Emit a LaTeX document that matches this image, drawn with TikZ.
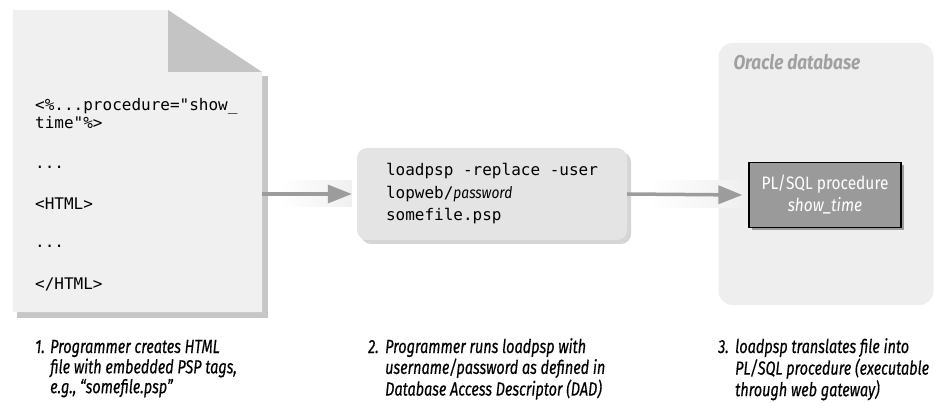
\documentclass[tikz,border=0pt]{standalone}
\usepackage{fontspec}
\setmainfont{Fira Sans}
\setmonofont{DejaVu Sans Mono}
\newfontfamily\capfont[FakeStretch=0.76,FakeBold=0.4]{Fira Sans}
\newfontfamily\boxfont[FakeStretch=0.86]{Fira Sans}
\usepackage{xcolor}
\usepackage{tikz}
\usetikzlibrary{shapes,shadows}
\usetikzlibrary{calc,arrows.meta,positioning}
\definecolor{pagegray}{HTML}{F0F0F0}
\definecolor{foldgray}{HTML}{C4C4C4}
\definecolor{boxgray}{HTML}{E4E4E4}
\definecolor{dbgray}{HTML}{EEEEEE}
\definecolor{procgray}{HTML}{9A9A9A}
\definecolor{arrowgray}{HTML}{9C9C9C}
\definecolor{labelgray}{HTML}{A0A0A0}

\begin{document}
\begin{tikzpicture}
		[x=1pt,y=-1pt,
		code/.style={anchor=base west,inner sep=0pt,font=\fontsize{16}{18}\ttfamily},
		loadbox/.style={rounded corners=10pt,fill=boxgray,minimum width=270pt,
			minimum height=92pt,align=left,font=\fontsize{16}{22.5}\ttfamily,
			drop shadow={shadow xshift=4pt,shadow yshift=-4pt,fill=gray!65}},
		dbbox/.style={rounded corners=14pt,fill=dbgray,minimum width=215pt,minimum height=262pt},
		procbox/.style={draw=black,line width=1.2pt,fill=procgray,text=white,align=center,
			minimum width=152pt,minimum height=65pt,font=\boxfont\fontsize{18}{22}\selectfont,
			drop shadow={shadow xshift=3pt,shadow yshift=-3pt,fill=black!70}},
		flow/.style={draw=arrowgray,line width=3.5pt,-{Triangle[length=24pt,width=18pt]}},
		caption/.style={anchor=base west,inner sep=0pt,font=\capfont\itshape\fontsize{19}{18.5}\selectfont}]
		\useasboundingbox (0,0) rectangle (934,403);
		% the .psp file
		\fill[gray!45] (17,76) -- (268,76) -- (268,318) -- (17,318) -- cycle;
		\fill[pagegray] (13,10) -- (168,10) -- (262,72) -- (262,312) -- (13,312) -- cycle;
		\fill[foldgray] (168,10) -- (168,72) -- (262,72) -- cycle;
		\node[inner sep=0pt,minimum width=249pt,minimum height=302pt] (doc) at (137.5,161) {};
		\node[code] (code1) at (35,111) {<\%...procedure="show\_};
		\node[code] (code2) at (35,129) {time"\%>};
		\node[code] (code3) at (35,169) {...};
		\node[code] (code4) at (35,210) {<HTML>};
		\node[code] (code5) at (35,248) {...};
		\node[code] (code6) at (35,290) {</HTML>};
		% loadpsp call
		\node[loadbox] (load) at (492,194) {loadpsp -replace -user\\lopweb/{\boxfont\itshape password}\\somefile.psp};
		% database
		\node[dbbox] (ora) at (826,174) {};
		\node[anchor=base west,inner sep=0pt,text=labelgray,font=\boxfont\bfseries\itshape\fontsize{20}{24}\selectfont]
			(oralbl) at ([shift={(15,27)}]ora.north west) {Oracle database};
		\node[procbox] (plsql) at (825,195) {PL/SQL procedure\\\textit{show\_time}};
		% arrows
		\shade[left color=white,right color=gray!12]
			($(doc.east |- load.west)+(18,-13)$) rectangle ($(load.west)+(-5,13)$);
		\shade[left color=white,right color=gray!12]
			($(load.east)+(22,-13)$) rectangle ($(plsql.west)+(-6,13)$);
		\draw[flow] (doc.east |- load.west) -- ([xshift=-5pt]load.west);
		\draw[flow] (load.east) -- ([xshift=-6pt]plsql.west);
		% steps
		\node[caption] (step1) at (35,353) {\begin{tabular}[t]{@{}p{15pt}@{}l@{}}
			1.&Programmer creates HTML\\&file with embedded PSP tags,\\&e.g., “somefile.psp”\end{tabular}};
		\node[caption] (step2) at (368,353) {\begin{tabular}[t]{@{}p{17pt}@{}l@{}}
			2.&Programmer runs loadpsp with\\&username/password as defined in\\&Database Access Descriptor (DAD)\end{tabular}};
		\node[caption] (step3) at (718,353) {\begin{tabular}[t]{@{}p{17pt}@{}l@{}}
			3.&loadpsp translates file into\\&PL/SQL procedure (executable\\&through web gateway)\end{tabular}};
\end{tikzpicture}
\end{document}
